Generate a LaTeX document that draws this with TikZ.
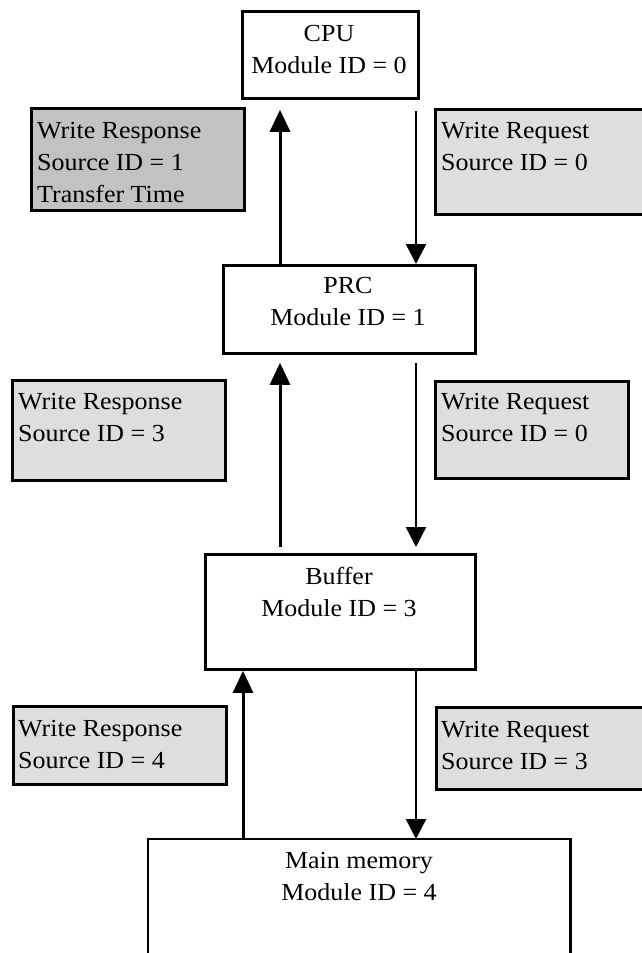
\documentclass[tikz,border=0pt]{standalone}
\usepackage{fontspec}
\setmainfont{Liberation Serif}[FakeStretch=1.06]
\usetikzlibrary{arrows.meta}
\definecolor{shadeA}{gray}{0.76}
\definecolor{shadeB}{gray}{0.87}
\begin{document}
\begin{tikzpicture}[x=1pt,y=-1pt,
  box/.style={draw, line width=2.8pt, inner sep=0pt, anchor=north west},
  lbl/.style={draw, line width=2.8pt, inner sep=0pt, anchor=north west},
  txt/.style={font=\fontsize{24.5}{32}\selectfont, align=center, inner sep=0pt, anchor=north},
  ltxt/.style={font=\fontsize{24.5}{32}\selectfont, align=left, inner sep=0pt, anchor=north west},
  uparr/.style={line width=3pt, -{Triangle[length=22pt,width=20pt]}},
  dnarr/.style={line width=2.4pt, -{Triangle[length=20pt,width=20pt]}},
]
\useasboundingbox (0,0) rectangle (641,953);

% column coordinates for the connectors
\coordinate (upx) at (280,0);
\coordinate (upxb) at (243,0);
\coordinate (dnx) at (416,0);

% module boxes
\node[box, minimum width=176pt, minimum height=87pt] (cpu) at (241,10) {};
\node[box, minimum width=252pt, minimum height=88pt] (prc) at (222,264) {};
\node[box, minimum width=270pt, minimum height=115pt] (buf) at (204,553) {};
\node[inner sep=0pt, anchor=north west, minimum width=422pt, minimum height=114pt] (mm) at (148,839) {};
\draw[line width=2.8pt] (mm.south west) -- (mm.north west) -- (mm.north east) -- (mm.south east);

% module texts
\node[txt] (cput) at (329,25) {CPU\\Module ID = 0};
\node[txt] (prct) at (348,277) {PRC\\Module ID = 1};
\node[txt] (buft) at (339,567) {Buffer\\Module ID = 3};
\node[txt] (mmt) at (359,852) {Main memory\\Module ID = 4};

% message label boxes
\node[lbl, fill=shadeA, minimum width=213pt, minimum height=102pt] (l1) at (30,107) {};
\node[lbl, fill=shadeB, minimum width=212pt, minimum height=105pt] (r1) at (434,108) {};
\node[lbl, fill=shadeB, minimum width=213pt, minimum height=100pt] (l2) at (11,379) {};
\node[lbl, fill=shadeB, minimum width=193pt, minimum height=97pt] (r2) at (434,380) {};
\node[lbl, fill=shadeB, minimum width=213pt, minimum height=78pt] (l3) at (12,705) {};
\node[lbl, fill=shadeB, minimum width=211pt, minimum height=82pt] (r3) at (435,706) {};

\node[ltxt] (l1t) at (37,122) {Write Response\\Source ID = 1\\Transfer Time};
\node[ltxt] (r1t) at (441,122) {Write Request\\Source ID = 0};
\node[ltxt] (l2t) at (18,393) {Write Response\\Source ID = 3};
\node[ltxt] (r2t) at (441,393) {Write Request\\Source ID = 0};
\node[ltxt] (l3t) at (18,720) {Write Response\\Source ID = 4};
\node[ltxt] (r3t) at (441,721) {Write Request\\Source ID = 3};

% connectors
\draw[uparr, shorten >=10pt] (prc.north -| upx) -- (cpu.south -| upx);
\draw[dnarr, shorten <=11pt] (cpu.south -| dnx) -- (prc.north -| dnx);
\draw[uparr, shorten <=6pt, shorten >=8pt] (buf.north -| upx) -- (prc.south -| upx);
\draw[dnarr, shorten <=8pt, shorten >=6pt] (prc.south -| dnx) -- (buf.north -| dnx);
\draw[uparr] (mm.north -| upxb) -- (buf.south -| upxb);
\draw[dnarr] (buf.south -| dnx) -- (mm.north -| dnx);
\end{tikzpicture}
\end{document}
